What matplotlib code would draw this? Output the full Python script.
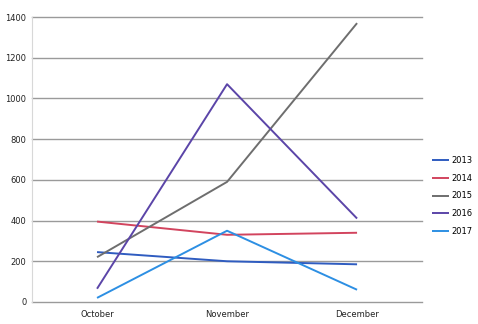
import matplotlib
matplotlib.use("Agg")
import matplotlib.pyplot as plt

months = ["October", "November", "December"]
years = ["2013", "2014", "2015", "2016", "2017"]
v2013 = [245, 200, 185]
v2014 = [395, 330, 340]
v2015 = [220, 590, 1370]
v2016 = [65, 1070, 410]
v2017 = [20, 350, 60]
series = [v2013, v2014, v2015, v2016, v2017]
colors = ["#2F5CC0", "#D2445E", "#6E6E6E", "#5B45A8", "#2D8FE3"]
yticks = [0, 200, 400, 600, 800, 1000, 1200, 1400]

fig = plt.figure(figsize=(4.78, 3.24), dpi=100)
ax = fig.add_axes([0.067, 0.068, 0.816, 0.8795])

x = range(len(months))
for name, vals, c in zip(years, series, colors):
    ax.plot(x, vals, color=c, lw=1.4, label=name, solid_capstyle="butt")

ax.set_xlim(-0.5, 2.5)
ax.set_ylim(0, 1400)
ax.set_yticks(yticks)
ax.set_xticks(list(x))
ax.set_xticklabels(months)
ax.tick_params(axis="both", length=0, labelsize=6, colors="#222222")
ax.tick_params(axis="y", pad=4)
ax.tick_params(axis="x", pad=6)
ax.yaxis.grid(True, color="#9a9a9a", lw=1.0)
for gl in ax.get_ygridlines():
    gl.set_clip_on(False)
ax.set_axisbelow(True)
for s in ["top", "right", "bottom"]:
    ax.spines[s].set_visible(False)
ax.spines["left"].set_color("#d8d8d8")
ax.spines["left"].set_linewidth(0.8)

ax.legend(loc="center left", bbox_to_anchor=(1.0, 0.372), frameon=False,
          fontsize=6, handlelength=2.0, handletextpad=0.3, labelspacing=1.05,
          borderaxespad=1.0, borderpad=0.2)

fig.savefig("out.png", dpi=100)
